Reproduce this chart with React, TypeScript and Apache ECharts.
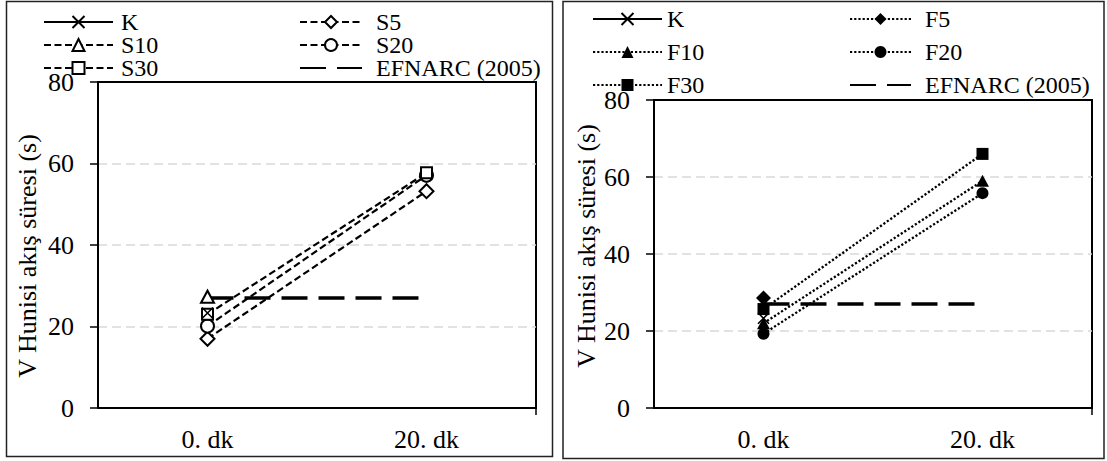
import React, { useEffect, useRef } from 'react';
import * as echarts from 'echarts';

// ---- data ----
const categories = ['0. dk', '20. dk'];
const yMin = 0;
const yMax = 80;
const yInterval = 20;

const kValues = [23.3, null];
const s5Values = [17, 53.2];
const s10Values = [27.3, null];
const s20Values = [20.1, 57.1];
const s30Values = [23, 57.7];

const f5Values = [28.6, null];
const f10Values = [22, 59];
const f20Values = [19.3, 55.8];
const f30Values = [25.7, 66];

const efnarcValues = [27, 27];

const yTitle = 'V Hunisi akış süresi (s)';
const EFN = 'EFNARC (2005)';

const FONT = 'Liberation Serif';
const CROSS = 'path://M0,0L10,10M10,0L0,10';

export default function App() {
  const ref = useRef<HTMLDivElement>(null);

  useEffect(() => {
    document.body.style.margin = '0';
    const chart = echarts.init(ref.current!, null, { renderer: 'svg' });

    const grids = [
      { left: 98, top: 82, width: 438, height: 326 },
      { left: 654, top: 100, width: 438, height: 308 },
    ];

    const xAxis = grids.map((_, i) => ({
      type: 'category',
      gridIndex: i,
      data: categories,
      boundaryGap: true,
      axisLine: { lineStyle: { color: '#000', width: 2 } },
      axisTick: { alignWithLabel: true, length: 7, lineStyle: { color: '#000', width: 1.5 } },
      axisLabel: { interval: 0, margin: 18, color: '#000', fontFamily: FONT, fontSize: 26 },
      splitLine: { show: false },
    }));

    const yAxis = grids.map((_, i) => ({
      type: 'value',
      gridIndex: i,
      min: yMin,
      max: yMax,
      interval: yInterval,
      axisLine: { show: true, lineStyle: { color: '#000', width: 2 } },
      axisTick: { show: true, length: 8, lineStyle: { color: '#000', width: 1.5 } },
      axisLabel: { margin: 24, color: '#000', fontFamily: FONT, fontSize: 26 },
      splitLine: {
        show: true,
        showMinLine: false,
        showMaxLine: false,
        lineStyle: { color: '#d9d9d9', width: 1.5, type: [9, 5] },
      },
    }));

    const dashS = { color: '#000', width: 2.2, type: [7, 3.5] };
    const dotF = { color: '#000', width: 2.3, type: [2.2, 2] };
    const solidK = { color: '#000', width: 2 };
    const efnLine = { color: '#000', width: 3.5, type: [26, 11] };

    const hollow = { color: '#000', borderColor: '#000', borderWidth: 1.4 };
    const filled = { color: '#000', borderColor: '#000', borderWidth: 0 };

    const line = (name: string, data: any[], gi: number, extra: any) => ({
      type: 'line',
      name,
      data,
      xAxisIndex: gi,
      yAxisIndex: gi,
      showAllSymbol: true,
      connectNulls: false,
      emphasis: { disabled: true },
      ...extra,
    });

    const efnSeries = (gi: number) =>
      line(EFN, efnarcValues, gi, {
        symbol: 'none',
        lineStyle: efnLine,
        itemStyle: { color: 'rgba(0,0,0,0)', borderColor: 'rgba(0,0,0,0)', borderWidth: 0 },
        z: 1,
      });

    const kSeries = (gi: number) =>
      line('K', kValues, gi, {
        symbol: CROSS,
        symbolSize: 11,
        lineStyle: solidK,
        itemStyle: { color: '#000', borderColor: '#000', borderWidth: 1.6 },
        z: 5,
      });

    const series = [
      efnSeries(0),
      line('S5', s5Values, 0, { symbol: 'emptyDiamond', symbolSize: 14, lineStyle: dashS, itemStyle: hollow, z: 3 }),
      line('S10', s10Values, 0, { symbol: 'emptyTriangle', symbolSize: [13, 12], lineStyle: dashS, itemStyle: hollow, z: 3 }),
      line('S20', s20Values, 0, { symbol: 'emptyCircle', symbolSize: 13, lineStyle: dashS, itemStyle: hollow, z: 3 }),
      line('S30', s30Values, 0, { symbol: 'emptyRect', symbolSize: 11, lineStyle: dashS, itemStyle: hollow, z: 3 }),
      kSeries(0),
      efnSeries(1),
      line('F5', f5Values, 1, { symbol: 'diamond', symbolSize: 15, lineStyle: dotF, itemStyle: filled, z: 3 }),
      line('F10', f10Values, 1, { symbol: 'triangle', symbolSize: [13, 12], lineStyle: dotF, itemStyle: filled, z: 3 }),
      line('F20', f20Values, 1, { symbol: 'circle', symbolSize: 12, lineStyle: dotF, itemStyle: filled, z: 3 }),
      line('F30', f30Values, 1, { symbol: 'rect', symbolSize: 12, lineStyle: dotF, itemStyle: filled, z: 3 }),
      kSeries(1),
    ];

    const legendItem = (name: string, left: number, top: number, itemWidth: number, pad: number) => ({
      data: [name],
      left,
      top,
      orient: 'horizontal',
      itemWidth,
      itemHeight: 15,
      padding: 0,
      selectedMode: false,
      textStyle: { fontFamily: FONT, fontSize: 24, lineHeight: 20, color: '#000', padding: [0, 0, 0, pad] },
    });

    const legend = [
      legendItem('K', 43, 10, 69, 3),
      legendItem('S10', 43, 33, 69, 3),
      legendItem('S30', 43, 56, 69, 3),
      legendItem('S5', 299, 10, 62, 9),
      legendItem('S20', 299, 33, 62, 9),
      legendItem(EFN, 299, 56, 62, 9),
      legendItem('K', 592, 7, 69, 0),
      legendItem('F10', 592, 40, 69, 0),
      legendItem('F30', 592, 73, 69, 0),
      legendItem('F5', 849, 7, 61, 9),
      legendItem('F20', 849, 40, 61, 9),
      legendItem(EFN, 849, 73, 61, 9),
    ];

    const graphic = [
      { type: 'rect', shape: { x: 6.5, y: 1.5, width: 546, height: 455 }, style: { fill: 'none', stroke: '#222', lineWidth: 1.5 }, silent: true },
      { type: 'rect', shape: { x: 563, y: 1.5, width: 541, height: 457 }, style: { fill: 'none', stroke: '#222', lineWidth: 1.5 }, silent: true },
      { type: 'line', shape: { x1: 536, y1: 408, x2: 536, y2: 415 }, style: { stroke: '#000', lineWidth: 1.5 }, silent: true },
      { type: 'line', shape: { x1: 1092, y1: 408, x2: 1092, y2: 415 }, style: { stroke: '#000', lineWidth: 1.5 }, silent: true },
      {
        type: 'text', x: 27, y: 256, rotation: Math.PI / 2, silent: true,
        style: { text: yTitle, fontFamily: FONT, fontSize: 26, fill: '#000', align: 'center', verticalAlign: 'middle' },
      },
      {
        type: 'text', x: 586, y: 246, rotation: Math.PI / 2, silent: true,
        style: { text: yTitle, fontFamily: FONT, fontSize: 26, fill: '#000', align: 'center', verticalAlign: 'middle' },
      },
    ];

    chart.setOption({
      animation: false,
      backgroundColor: '#fff',
      grid: grids.map((g) => ({ ...g, show: true, borderColor: '#000', borderWidth: 2, backgroundColor: 'transparent', containLabel: false })),
      xAxis,
      yAxis,
      legend,
      series,
      graphic,
    });

    return () => chart.dispose();
  }, []);

  return <div ref={ref} style={{ width: 1107, height: 461 }} />;
}
